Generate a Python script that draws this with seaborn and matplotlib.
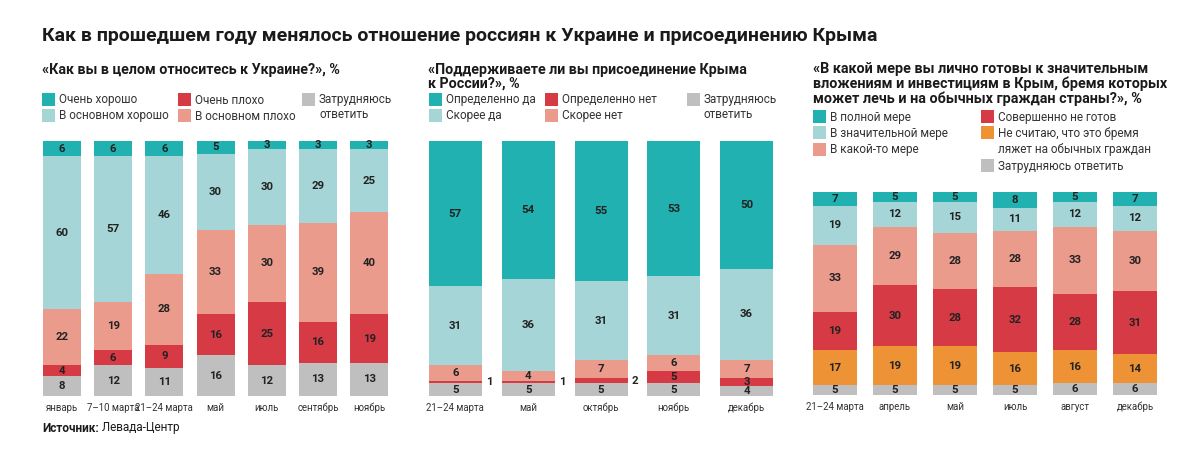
import matplotlib
matplotlib.use("Agg")
import matplotlib.pyplot as plt
from matplotlib.patches import Rectangle
import seaborn as sns
import numpy as np

sns.set_theme(style="white")
plt.rcParams['font.family'] = ['Liberation Sans Narrow', 'Roboto', 'DejaVu Sans']

# ---------------- data ----------------
title = "Как в прошедшем году менялось отношение россиян к Украине и присоединению Крыма"

p1_title = "«Как вы в целом относитесь к Украине?», %"
p1_cats = ["январь", "7–10 марта", "21–24 марта", "май", "июль", "сентябрь", "ноябрь"]
p1_very_good = [6, 6, 6, 5, 3, 3, 3]
p1_good = [60, 57, 46, 30, 30, 29, 25]
p1_bad = [22, 19, 28, 33, 30, 39, 40]
p1_very_bad = [4, 6, 9, 16, 25, 16, 19]
p1_dk = [8, 12, 11, 16, 12, 13, 13]

p2_title = "«Поддерживаете ли вы присоединение Крыма\nк России?», %"
p2_cats = ["21–24 марта", "май", "октябрь", "ноябрь", "декабрь"]
p2_def_yes = [57, 54, 55, 53, 50]
p2_yes = [31, 36, 31, 31, 36]
p2_no = [6, 4, 7, 6, 7]
p2_def_no = [1, 1, 2, 5, 3]
p2_dk = [5, 5, 5, 5, 4]

p3_title = ("«В какой мере вы лично готовы к значительным\n"
            "вложениям и инвестициям в Крым, бремя которых\n"
            "может лечь и на обычных граждан страны?», %")
p3_cats = ["21–24 марта", "апрель", "май", "июль", "август", "декабрь"]
p3_full = [7, 5, 5, 8, 5, 7]
p3_much = [19, 12, 15, 11, 12, 12]
p3_some = [33, 29, 28, 28, 33, 30]
p3_not = [19, 30, 28, 32, 28, 31]
p3_notme = [17, 19, 19, 16, 16, 14]
p3_dk = [5, 5, 5, 5, 6, 6]

source_bold = "Источник:"
source_text = " Левада-Центр"

# ---------------- style ----------------
TEAL = "#21b1b0"
LTEAL = "#a5d5d7"
SALMON = "#ea9b8c"
RED = "#d63a45"
GREY = "#bfbfbf"
ORANGE = "#ee9236"
TXT = "#222222"
LEG = "#333333"

W, H = 1200, 457
fig = plt.figure(figsize=(W / 100, H / 100), dpi=100)
fig.patch.set_facecolor("white")


def fx(px):
    return px / W


def fy(py):
    return 1 - py / H


def make_ax(left, top, width, height):
    return fig.add_axes([fx(left), fy(top + height), width / W, height / H])


def stacked(ax, cats, layers, colors, bar_w, outside_small=False):
    # layers from bottom to top
    arr = np.array(layers, dtype=float)
    cum = np.cumsum(arr, axis=0)
    n = len(cats)
    # draw from top cumulative downwards so lower layers overlay
    for i in range(len(layers) - 1, -1, -1):
        sns.barplot(x=cats, y=cum[i], color=colors[i], width=bar_w, saturation=1,
                    errorbar=None, ax=ax, order=cats, linewidth=0)
    for i in range(len(layers)):
        for j in range(n):
            v = arr[i, j]
            yc = cum[i, j] - v / 2
            if outside_small and v <= 2:
                ax.text(j + bar_w / 2 + 0.06, yc, f"{int(v)}", ha="left", va="center",
                        fontsize=8.2, fontweight="bold", color=TXT)
            else:
                ax.text(j, yc, f"{int(v)}", ha="center", va="center",
                        fontsize=8.2, fontweight="bold", color=TXT)
    ax.set_xlim(-0.5, n - 0.5)
    ax.set_ylim(0, 100)
    ax.set_yticks([])
    ax.set_xlabel("")
    ax.set_ylabel("")
    for s in ax.spines.values():
        s.set_visible(False)
    ax.tick_params(axis="x", length=0, pad=5, labelsize=6.9, labelcolor=LEG)
    ax.set_facecolor("none")


# panel 1
ax1 = make_ax(36.4, 141, 7 * 51.2, 255)
stacked(ax1, p1_cats, [p1_dk, p1_very_bad, p1_bad, p1_good, p1_very_good],
        [GREY, RED, SALMON, LTEAL, TEAL], 38 / 51.2)

# panel 2
ax2 = make_ax(419, 141, 5 * 72.8, 255)
stacked(ax2, p2_cats, [p2_dk, p2_def_no, p2_no, p2_yes, p2_def_yes],
        [GREY, RED, SALMON, LTEAL, TEAL], 53 / 72.8, outside_small=True)

# panel 3
ax3 = make_ax(805, 192, 6 * 60, 203)
stacked(ax3, p3_cats, [p3_dk, p3_notme, p3_not, p3_some, p3_much, p3_full],
        [GREY, ORANGE, RED, SALMON, LTEAL, TEAL], 44 / 60)

# ---------------- texts ----------------
fig.text(fx(42), fy(36), title, ha="left", va="center", fontsize=14,
         fontweight="bold", color="#1a1a1a")

fig.text(fx(42), fy(70), p1_title, ha="left", va="center", fontsize=10.3,
         fontweight="bold", color="#1a1a1a")
fig.text(fx(428), fy(77), p2_title, ha="left", va="center", fontsize=10.3,
         fontweight="bold", color="#1a1a1a", linespacing=1.0)
fig.text(fx(813), fy(84), p3_title, ha="left", va="center", fontsize=10.4,
         fontweight="bold", color="#1a1a1a", linespacing=1.0)


def legend_item(x, y, color, text):
    fig.patches.append(Rectangle((fx(x), fy(y + 6)), 13 / W, 13 / H, transform=fig.transFigure,
                                 facecolor=color, edgecolor="none"))
    fig.text(fx(x + 17), fy(y), text, ha="left", va="center", fontsize=8.5, color=LEG,
             linespacing=1.3)


# legend panel 1
legend_item(42, 100, TEAL, "Очень хорошо")
legend_item(42, 116, LTEAL, "В основном хорошо")
legend_item(178, 100, RED, "Очень плохо")
legend_item(178, 116, SALMON, "В основном плохо")
legend_item(302, 100, GREY, "Затрудняюсь")
fig.text(fx(319), fy(115), "ответить", ha="left", va="center", fontsize=8.5, color=LEG)

# legend panel 2
legend_item(429, 100, TEAL, "Определенно да")
legend_item(429, 116, LTEAL, "Скорее да")
legend_item(545, 100, RED, "Определенно нет")
legend_item(545, 116, SALMON, "Скорее нет")
legend_item(687, 100, GREY, "Затрудняюсь")
fig.text(fx(704), fy(114), "ответить", ha="left", va="center", fontsize=8.5, color=LEG)

# legend panel 3
legend_item(813, 117, TEAL, "В полной мере")
legend_item(813, 133, LTEAL, "В значительной мере")
legend_item(813, 150, SALMON, "В какой-то мере")
legend_item(981, 117, RED, "Совершенно не готов")
legend_item(981, 133, ORANGE, "Не считаю, что это бремя")
fig.text(fx(998), fy(149), "ляжет на обычных граждан", ha="left", va="center",
         fontsize=8.5, color=LEG)
legend_item(981, 166, GREY, "Затрудняюсь ответить")

# source
t = fig.text(fx(42), fy(428), source_bold, ha="left", va="center", fontsize=8.5,
             fontweight="bold", color="#1a1a1a")
fig.canvas.draw()
bb = t.get_window_extent()
fig.text(bb.x1 / W, fy(428), source_text, ha="left", va="center", fontsize=8.5,
         color="#1a1a1a")

fig.savefig("out.png", dpi=100, facecolor="white")
